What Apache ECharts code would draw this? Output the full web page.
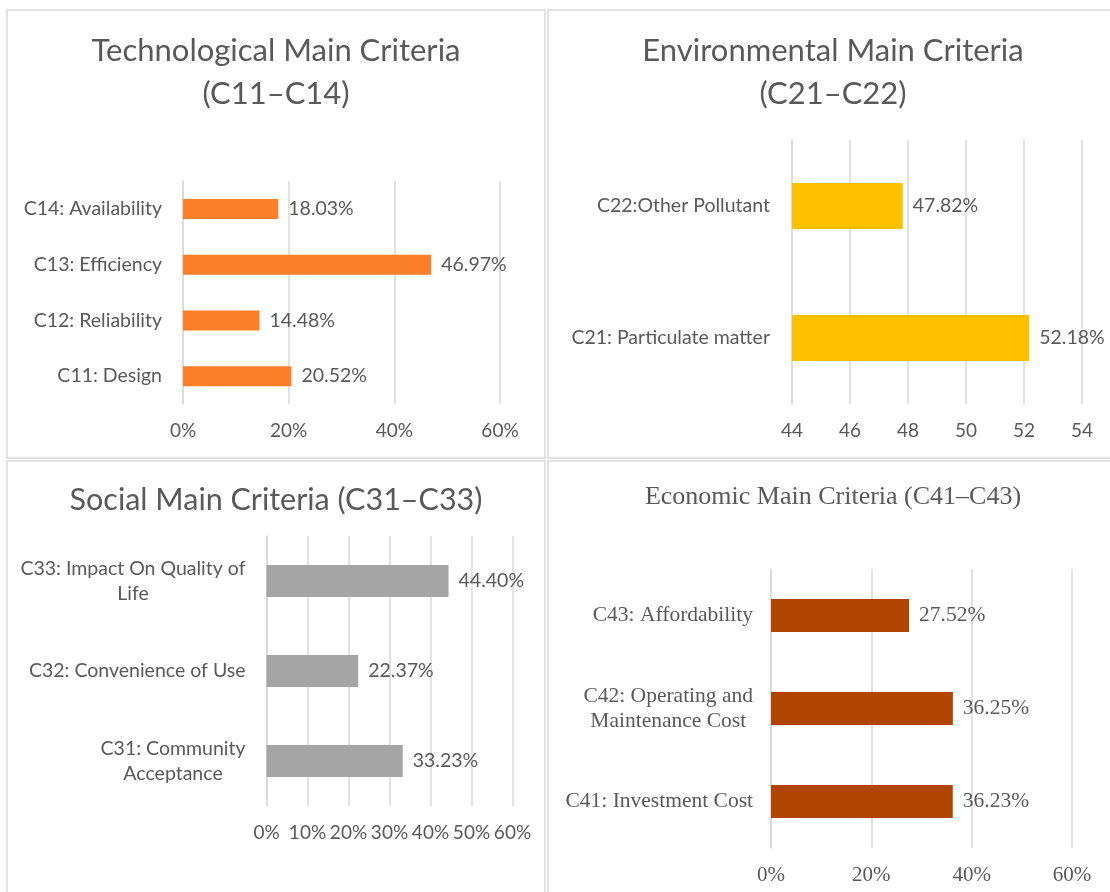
<!DOCTYPE html>
<html>
<head>
<meta charset="utf-8">
<title>Main Criteria</title>
<script src="https://cdn.jsdelivr.net/npm/echarts@6/dist/echarts.min.js"></script>
<style>
  html, body { margin: 0; padding: 0; background: #fff; }
  #chart { width: 1110px; height: 892px; }
</style>
</head>
<body>
<div id="chart"></div>
<script>
// Technological (C11-C14)
const techCats = ['C11: Design', 'C12: Reliability', 'C13: Efficiency', 'C14: Availability'];
const techVals = [20.52, 14.48, 46.97, 18.03];
const techTicks = [0, 20, 40, 60];

// Environmental (C21-C22)
const envCats = ['C21: Particulate matter', 'C22:Other Pollutant'];
const envVals = [52.18, 47.82];
const envTicks = [44, 46, 48, 50, 52, 54];

// Social (C31-C33)
const socCats = ['C31: Community\nAcceptance', 'C32: Convenience of Use', 'C33: Impact On Quality of\nLife'];
const socVals = [33.23, 22.37, 44.40];
const socTicks = [0, 10, 20, 30, 40, 50, 60];

// Economic (C41-C43)
const ecoCats = ['C41: Investment Cost', 'C42: Operating and\nMaintenance Cost', 'C43: Affordability'];
const ecoVals = [36.23, 36.25, 27.52];
const ecoTicks = [0, 20, 40, 60];

const sans = 'Lato';
const serif = 'Liberation Serif';
const grey = '#595959';
const gridCol = '#d9d9d9';

const chart = echarts.init(document.getElementById('chart'));

// value axis built from a tick list
function valAxis(idx, ticks, pct, font, size) {
  return {
    type: 'value', gridIndex: idx,
    min: ticks[0], max: ticks[ticks.length - 1], interval: ticks[1] - ticks[0],
    axisLine: { show: false }, axisTick: { show: false },
    splitLine: { lineStyle: { color: gridCol, width: 1.5 } },
    axisLabel: {
      color: grey, fontFamily: font, fontSize: size, margin: 17,
      formatter: v => pct ? v + '%' : String(v)
    }
  };
}

// category labels: lines centred inside a right-aligned block
function catAxis(idx, cats, font, size, margin) {
  return {
    type: 'category', gridIndex: idx, data: cats,
    axisLine: { show: true, lineStyle: { color: gridCol, width: 1.5 } },
    axisTick: { show: false },
    axisLabel: {
      margin: margin,
      formatter: v => v.split('\n').map(s => '{c|' + s + '}').join('\n'),
      rich: { c: { align: 'center', color: grey, fontFamily: font, fontSize: size, lineHeight: 25 } }
    }
  };
}

function barSeries(idx, vals, color, width, font, size) {
  return {
    type: 'bar', xAxisIndex: idx, yAxisIndex: idx, data: vals,
    barWidth: width, clip: true,
    itemStyle: { color: color },
    label: {
      show: true, position: 'right', distance: 10,
      color: grey, fontFamily: font, fontSize: size,
      formatter: p => p.value.toFixed(2) + '%'
    }
  };
}

function title(text, x, y, font, size, lh) {
  return {
    text: text, left: x, top: y, textAlign: 'center', padding: 0,
    textStyle: { color: grey, fontFamily: font, fontSize: size, fontWeight: 'normal', lineHeight: lh }
  };
}

function frame(x, y, w, h) {
  return { type: 'rect', shape: { x: x, y: y, width: w, height: h }, silent: true,
    style: { fill: 'none', stroke: gridCol, lineWidth: 1.5 } };
}

chart.setOption({
  animation: false,
  graphic: [
    frame(7, 10, 538, 448),
    frame(548, 10, 600, 448),
    frame(7, 461, 538, 500),
    frame(548, 461, 600, 500)
  ],
  title: [
    title('Technological Main Criteria\n(C11–C14)', 276, 29, sans, 31, 43),
    title('Environmental Main Criteria\n(C21–C22)', 833, 29, sans, 31, 43),
    title('Social Main Criteria (C31–C33)', 276, 483, sans, 30.5, 34),
    title('Economic Main Criteria (C41–C43)', 833, 484, serif, 26, 26)
  ],
  grid: [
    { left: 183, top: 181, width: 317, height: 223 },
    { left: 792, top: 140, width: 290, height: 264 },
    { left: 266.5, top: 536, width: 246, height: 270 },
    { left: 771, top: 569, width: 301, height: 279 }
  ],
  xAxis: [
    valAxis(0, techTicks, true, sans, 19),
    valAxis(1, envTicks, false, sans, 19),
    valAxis(2, socTicks, true, sans, 19),
    valAxis(3, ecoTicks, true, serif, 21)
  ],
  yAxis: [
    catAxis(0, techCats, sans, 19.5, 21),
    catAxis(1, envCats, sans, 19.5, 22),
    catAxis(2, socCats, sans, 19.5, 21),
    catAxis(3, ecoCats, serif, 21.5, 18)
  ],
  series: [
    barSeries(0, techVals, '#FE7F2A', 20, sans, 19.5),
    barSeries(1, envVals, '#FFC000', 46, sans, 19.5),
    barSeries(2, socVals, '#A5A5A5', 32, sans, 19.5),
    barSeries(3, ecoVals, '#B14400', 33, serif, 21.5)
  ]
});

window.onresize = function () {
  chart.resize();
};
</script>
</body>
</html>
